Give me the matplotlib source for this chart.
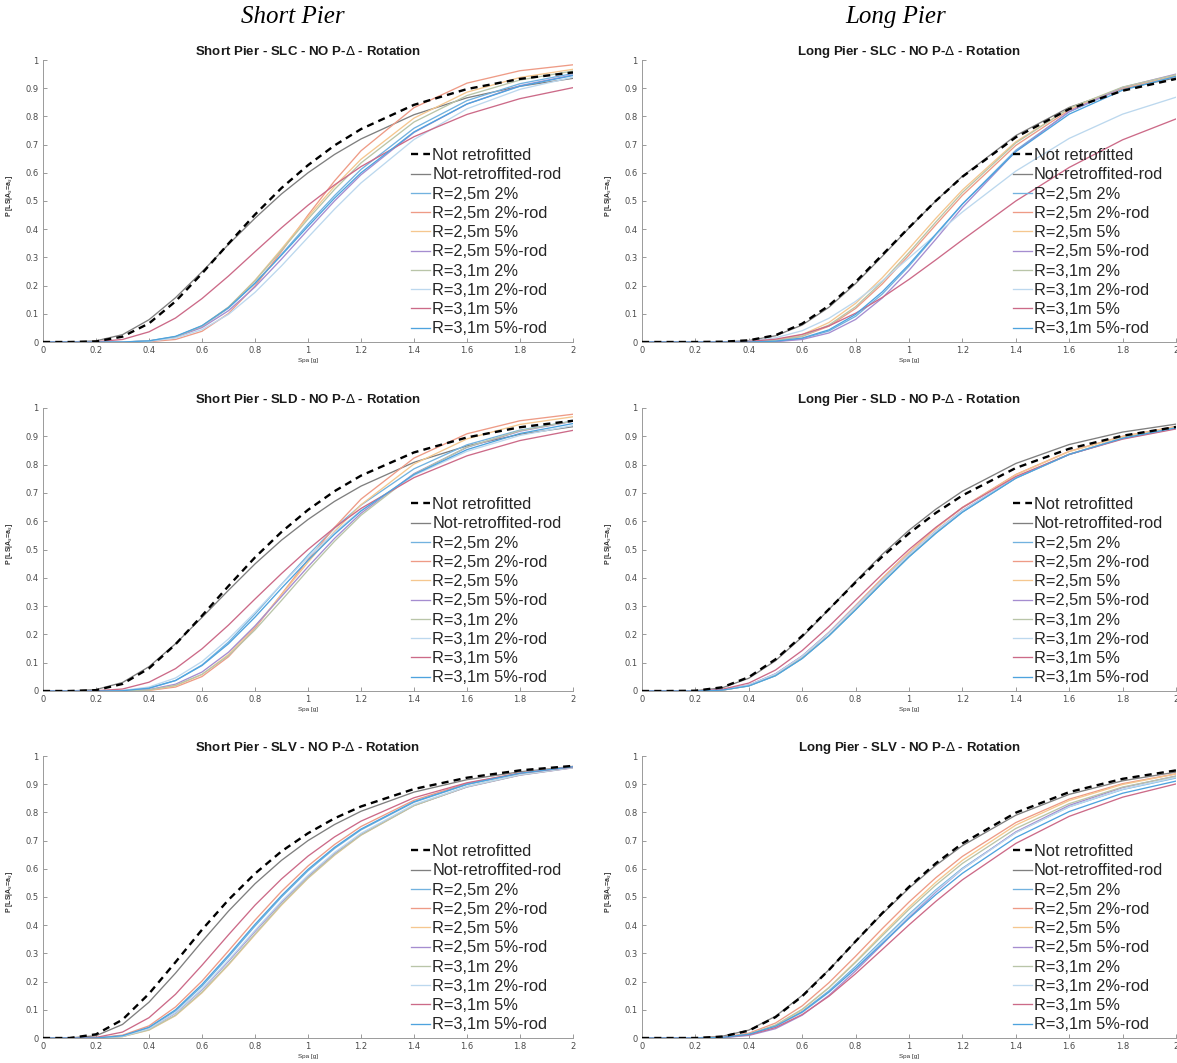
import matplotlib
matplotlib.use("Agg")
import matplotlib.pyplot as plt

# Spectral acceleration abscissa [g]
spa = [0.0, 0.1, 0.2, 0.3, 0.4, 0.5, 0.6, 0.7, 0.8, 0.9, 1.0, 1.1, 1.2, 1.4, 1.6, 1.8, 2.0]

labels = ["Not retrofitted", "Not-retroffited-rod", "R=2,5m 2%", "R=2,5m 2%-rod",
          "R=2,5m 5%", "R=2,5m 5%-rod", "R=3,1m 2%", "R=3,1m 2%-rod",
          "R=3,1m 5%", "R=3,1m 5%-rod"]

colors = ["#000000", "#7f7f7f", "#72b2df", "#ee9b86", "#f5c78f", "#a58dd0",
          "#b9c5a8", "#bcd8ee", "#cc6a88", "#4ea3de"]

xticks = [0, 0.2, 0.4, 0.6, 0.8, 1.0, 1.2, 1.4, 1.6, 1.8, 2.0]
yticks = [0, 0.1, 0.2, 0.3, 0.4, 0.5, 0.6, 0.7, 0.8, 0.9, 1.0]

# Fragility curves, one row per legend entry (same order as labels)
short_slc = [
    [0, 0, 0.002, 0.019, 0.066, 0.144, 0.243, 0.349, 0.452, 0.546, 0.627, 0.697, 0.755, 0.841, 0.897, 0.933, 0.956],
    [0, 0, 0.004, 0.026, 0.079, 0.157, 0.249, 0.346, 0.439, 0.525, 0.600, 0.665, 0.720, 0.806, 0.866, 0.907, 0.935],
    [0, 0, 0, 0, 0.004, 0.019, 0.056, 0.120, 0.209, 0.311, 0.418, 0.519, 0.612, 0.758, 0.856, 0.916, 0.952],
    [0, 0, 0, 0, 0.001, 0.009, 0.038, 0.101, 0.199, 0.321, 0.450, 0.571, 0.678, 0.831, 0.918, 0.962, 0.983],
    [0, 0, 0, 0, 0.003, 0.017, 0.055, 0.123, 0.219, 0.330, 0.444, 0.552, 0.648, 0.794, 0.886, 0.938, 0.967],
    [0, 0, 0, 0, 0.003, 0.017, 0.051, 0.111, 0.195, 0.294, 0.398, 0.500, 0.593, 0.743, 0.844, 0.909, 0.947],
    [0, 0, 0, 0, 0.003, 0.018, 0.057, 0.124, 0.217, 0.325, 0.436, 0.541, 0.635, 0.780, 0.874, 0.929, 0.961],
    [0, 0, 0, 0, 0.003, 0.014, 0.044, 0.098, 0.176, 0.270, 0.371, 0.471, 0.564, 0.718, 0.827, 0.896, 0.939],
    [0, 0, 0.001, 0.009, 0.036, 0.085, 0.154, 0.234, 0.320, 0.405, 0.485, 0.557, 0.622, 0.728, 0.807, 0.863, 0.902],
    [0, 0, 0, 0, 0.004, 0.020, 0.058, 0.122, 0.208, 0.308, 0.410, 0.510, 0.600, 0.745, 0.844, 0.907, 0.945],
]

long_slc = [
    [0, 0, 0, 0.001, 0.006, 0.024, 0.065, 0.129, 0.213, 0.309, 0.406, 0.500, 0.586, 0.726, 0.826, 0.891, 0.933],
    [0, 0, 0, 0, 0.005, 0.022, 0.060, 0.123, 0.207, 0.304, 0.404, 0.500, 0.588, 0.732, 0.832, 0.897, 0.937],
    [0, 0, 0, 0, 0, 0.002, 0.012, 0.039, 0.091, 0.170, 0.269, 0.379, 0.489, 0.680, 0.816, 0.900, 0.947],
    [0, 0, 0, 0, 0.001, 0.005, 0.020, 0.056, 0.119, 0.206, 0.308, 0.415, 0.520, 0.697, 0.822, 0.900, 0.945],
    [0, 0, 0, 0, 0.001, 0.007, 0.026, 0.069, 0.137, 0.228, 0.331, 0.438, 0.539, 0.710, 0.828, 0.902, 0.946],
    [0, 0, 0, 0, 0, 0.001, 0.009, 0.032, 0.080, 0.156, 0.254, 0.364, 0.477, 0.676, 0.817, 0.903, 0.950],
    [0, 0, 0, 0, 0.001, 0.005, 0.021, 0.060, 0.125, 0.214, 0.317, 0.425, 0.530, 0.706, 0.829, 0.904, 0.948],
    [0, 0, 0, 0, 0.003, 0.015, 0.040, 0.084, 0.144, 0.217, 0.298, 0.380, 0.461, 0.606, 0.722, 0.808, 0.868],
    [0, 0, 0, 0, 0.002, 0.010, 0.027, 0.057, 0.102, 0.158, 0.222, 0.291, 0.362, 0.500, 0.619, 0.717, 0.791],
    [0, 0, 0, 0, 0, 0.003, 0.014, 0.043, 0.098, 0.178, 0.275, 0.382, 0.489, 0.675, 0.808, 0.893, 0.942],
]

short_sld = [
    [0, 0, 0.003, 0.025, 0.080, 0.165, 0.266, 0.371, 0.472, 0.562, 0.640, 0.706, 0.761, 0.843, 0.896, 0.932, 0.955],
    [0, 0, 0.005, 0.030, 0.086, 0.167, 0.260, 0.356, 0.449, 0.533, 0.606, 0.670, 0.724, 0.808, 0.866, 0.907, 0.934],
    [0, 0, 0, 0.001, 0.010, 0.037, 0.092, 0.173, 0.272, 0.377, 0.480, 0.575, 0.657, 0.785, 0.870, 0.922, 0.954],
    [0, 0, 0, 0, 0.002, 0.014, 0.051, 0.121, 0.222, 0.342, 0.464, 0.578, 0.678, 0.823, 0.909, 0.955, 0.978],
    [0, 0, 0, 0, 0.003, 0.018, 0.058, 0.129, 0.227, 0.340, 0.455, 0.564, 0.658, 0.802, 0.891, 0.942, 0.969],
    [0, 0, 0, 0, 0.005, 0.024, 0.067, 0.137, 0.230, 0.334, 0.439, 0.539, 0.628, 0.768, 0.861, 0.918, 0.953],
    [0, 0, 0, 0, 0.004, 0.020, 0.059, 0.125, 0.216, 0.320, 0.427, 0.529, 0.621, 0.766, 0.862, 0.920, 0.954],
    [0, 0, 0, 0.002, 0.014, 0.046, 0.104, 0.184, 0.278, 0.377, 0.472, 0.560, 0.638, 0.762, 0.847, 0.903, 0.938],
    [0, 0, 0.001, 0.007, 0.031, 0.079, 0.149, 0.233, 0.325, 0.415, 0.500, 0.577, 0.645, 0.754, 0.831, 0.885, 0.921],
    [0, 0, 0, 0.001, 0.010, 0.037, 0.090, 0.167, 0.261, 0.363, 0.462, 0.554, 0.636, 0.765, 0.853, 0.910, 0.945],
]

long_sld = [
    [0, 0, 0.001, 0.013, 0.049, 0.112, 0.195, 0.289, 0.384, 0.475, 0.557, 0.629, 0.691, 0.788, 0.856, 0.902, 0.933],
    [0, 0, 0.001, 0.011, 0.045, 0.107, 0.191, 0.288, 0.388, 0.483, 0.568, 0.642, 0.706, 0.804, 0.871, 0.915, 0.943],
    [0, 0, 0, 0.003, 0.018, 0.054, 0.115, 0.195, 0.287, 0.382, 0.474, 0.557, 0.632, 0.752, 0.836, 0.893, 0.930],
    [0, 0, 0, 0.003, 0.020, 0.059, 0.123, 0.207, 0.302, 0.399, 0.491, 0.575, 0.649, 0.765, 0.847, 0.900, 0.935],
    [0, 0, 0, 0.003, 0.020, 0.059, 0.122, 0.206, 0.301, 0.398, 0.490, 0.574, 0.647, 0.764, 0.846, 0.899, 0.934],
    [0, 0, 0, 0.004, 0.021, 0.061, 0.124, 0.206, 0.299, 0.393, 0.483, 0.565, 0.638, 0.754, 0.836, 0.892, 0.928],
    [0, 0, 0, 0.003, 0.018, 0.055, 0.116, 0.196, 0.289, 0.384, 0.476, 0.559, 0.634, 0.753, 0.837, 0.894, 0.931],
    [0, 0, 0, 0.004, 0.021, 0.060, 0.123, 0.205, 0.298, 0.392, 0.482, 0.564, 0.637, 0.754, 0.836, 0.892, 0.929],
    [0, 0, 0, 0.006, 0.028, 0.074, 0.143, 0.228, 0.321, 0.413, 0.500, 0.578, 0.648, 0.758, 0.836, 0.890, 0.926],
    [0, 0, 0, 0.003, 0.018, 0.054, 0.115, 0.195, 0.287, 0.382, 0.474, 0.557, 0.632, 0.752, 0.836, 0.893, 0.930],
]

short_slv = [
    [0, 0, 0.013, 0.065, 0.157, 0.269, 0.384, 0.490, 0.583, 0.662, 0.726, 0.779, 0.821, 0.883, 0.923, 0.949, 0.965],
    [0, 0, 0.008, 0.048, 0.127, 0.230, 0.342, 0.450, 0.547, 0.630, 0.700, 0.757, 0.804, 0.872, 0.916, 0.944, 0.963],
    [0, 0, 0, 0.007, 0.036, 0.096, 0.184, 0.288, 0.397, 0.500, 0.593, 0.672, 0.738, 0.836, 0.899, 0.938, 0.962],
    [0, 0, 0.001, 0.010, 0.043, 0.110, 0.202, 0.309, 0.418, 0.520, 0.610, 0.686, 0.750, 0.843, 0.903, 0.940, 0.963],
    [0, 0, 0, 0.005, 0.028, 0.079, 0.160, 0.259, 0.366, 0.471, 0.566, 0.648, 0.719, 0.824, 0.891, 0.933, 0.959],
    [0, 0, 0, 0.006, 0.032, 0.088, 0.171, 0.272, 0.378, 0.481, 0.573, 0.654, 0.722, 0.825, 0.890, 0.932, 0.958],
    [0, 0, 0, 0.005, 0.029, 0.081, 0.163, 0.262, 0.369, 0.474, 0.568, 0.650, 0.720, 0.824, 0.891, 0.933, 0.959],
    [0, 0, 0, 0.006, 0.033, 0.090, 0.174, 0.276, 0.382, 0.485, 0.577, 0.658, 0.726, 0.828, 0.892, 0.934, 0.959],
    [0, 0, 0.002, 0.021, 0.072, 0.155, 0.258, 0.366, 0.471, 0.564, 0.645, 0.713, 0.769, 0.852, 0.905, 0.939, 0.961],
    [0, 0, 0, 0.008, 0.038, 0.100, 0.190, 0.294, 0.403, 0.505, 0.598, 0.676, 0.741, 0.838, 0.900, 0.939, 0.962],
]

long_slv = [
    [0, 0, 0, 0.005, 0.026, 0.074, 0.148, 0.241, 0.343, 0.443, 0.536, 0.619, 0.690, 0.799, 0.872, 0.919, 0.949],
    [0, 0, 0, 0.006, 0.028, 0.077, 0.151, 0.242, 0.342, 0.440, 0.531, 0.612, 0.682, 0.790, 0.864, 0.912, 0.943],
    [0, 0, 0, 0.002, 0.013, 0.042, 0.094, 0.167, 0.254, 0.347, 0.439, 0.525, 0.602, 0.729, 0.820, 0.881, 0.922],
    [0, 0, 0, 0.003, 0.017, 0.053, 0.114, 0.196, 0.290, 0.388, 0.482, 0.568, 0.644, 0.764, 0.847, 0.902, 0.937],
    [0, 0, 0, 0.002, 0.013, 0.044, 0.100, 0.179, 0.271, 0.369, 0.464, 0.552, 0.630, 0.755, 0.842, 0.899, 0.936],
    [0, 0, 0, 0.001, 0.009, 0.033, 0.081, 0.151, 0.238, 0.332, 0.427, 0.517, 0.599, 0.731, 0.825, 0.888, 0.929],
    [0, 0, 0, 0.002, 0.014, 0.046, 0.102, 0.178, 0.268, 0.363, 0.456, 0.542, 0.619, 0.743, 0.831, 0.890, 0.928],
    [0, 0, 0, 0.002, 0.012, 0.040, 0.090, 0.162, 0.248, 0.341, 0.434, 0.521, 0.599, 0.728, 0.820, 0.882, 0.924],
    [0, 0, 0, 0.002, 0.011, 0.037, 0.083, 0.148, 0.228, 0.314, 0.401, 0.484, 0.561, 0.690, 0.786, 0.854, 0.901],
    [0, 0, 0, 0.002, 0.013, 0.042, 0.092, 0.163, 0.246, 0.335, 0.424, 0.508, 0.584, 0.711, 0.803, 0.868, 0.911],
]

panels = [
    ("Short Pier - SLC - NO P-$\\Delta$ - Rotation", short_slc),
    ("Long Pier - SLC - NO P-$\\Delta$ - Rotation", long_slc),
    ("Short Pier - SLD - NO P-$\\Delta$ - Rotation", short_sld),
    ("Long Pier - SLD - NO P-$\\Delta$ - Rotation", long_sld),
    ("Short Pier - SLV - NO P-$\\Delta$ - Rotation", short_slv),
    ("Long Pier - SLV - NO P-$\\Delta$ - Rotation", long_slv),
]

W, H = 1177, 1063
fig = plt.figure(figsize=(W / 100, H / 100), dpi=100)
fig.patch.set_facecolor("white")

sans = "Liberation Sans"
col_px = [(43, 573), (642, 1176)]
row_px = [(60, 342), (408, 691), (756, 1038)]

for i, (title, curves) in enumerate(panels):
    r, c = divmod(i, 2)
    x0, x1 = col_px[c]
    y0, y1 = row_px[r]
    ax = fig.add_axes([x0 / W, 1 - y1 / H, (x1 - x0) / W, (y1 - y0) / H])

    handles = []
    for k, vals in enumerate(curves):
        if k == 0:
            ln, = ax.plot(spa, vals, color=colors[k], lw=1.7, ls=(0, (3.0, 2.2)),
                          zorder=3)
        else:
            ln, = ax.plot(spa, vals, color=colors[k], lw=0.95, zorder=2)
        handles.append(ln)

    ax.set_xlim(0, 2)
    ax.set_ylim(0, 1)
    ax.set_xticks(xticks)
    ax.set_yticks(yticks)
    ax.set_xticklabels(["{:g}".format(t) for t in xticks])
    ax.set_yticklabels(["{:g}".format(t) for t in yticks])
    ax.tick_params(direction="in", length=3, width=0.6, colors="#8a8a8a",
                   labelsize=6, labelcolor="#4a4a4a", pad=3)
    for s in ("top", "right"):
        ax.spines[s].set_visible(False)
    for s in ("left", "bottom"):
        ax.spines[s].set_color("#9a9a9a")
        ax.spines[s].set_linewidth(0.7)

    ax.set_title(title, fontsize=9.5, fontweight="bold", family=sans,
                 color="#1a1a1a", pad=3.5)
    ax.set_xlabel("Spa [g]", fontsize=4.5, family=sans, color="#333333")
    ax.xaxis.set_label_coords(0.5, -0.055)
    ax.set_ylabel("P [LS|A$_s$=a$_s$]", fontsize=5, family=sans,
                  fontweight="bold", color="#333333")
    ax.yaxis.set_label_coords(-0.053, 0.52)

    leg = ax.legend(handles, labels, loc="lower left",
                    bbox_to_anchor=(0.695, 0.02), frameon=False,
                    prop={"family": sans, "size": 11.8},
                    handlelength=1.15, handletextpad=0.12,
                    labelspacing=0.26, borderpad=0, borderaxespad=0)
    for t in leg.get_texts():
        t.set_color("#262626")

fig.text(293 / W, 1 - 17 / H, "Short Pier", family="Liberation Serif",
         style="italic", fontsize=18, ha="center", va="center")
fig.text(896 / W, 1 - 17 / H, "Long Pier", family="Liberation Serif",
         style="italic", fontsize=18, ha="center", va="center")

fig.savefig("out.png", dpi=100, facecolor="white")
